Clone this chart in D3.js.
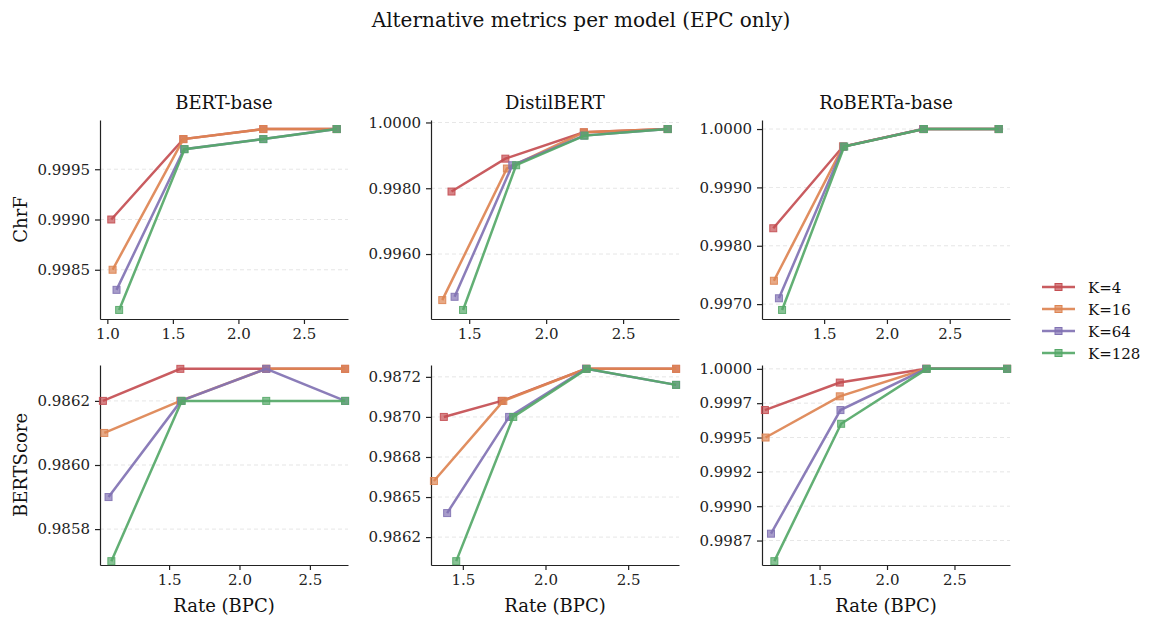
<!DOCTYPE html>
<html>
<head>
<meta charset="utf-8">
<script src="https://cdn.jsdelivr.net/npm/d3@7"></script>
<style>
  body { margin: 0; background: #fff; }
  svg { font-family: "DejaVu Serif", serif; }
</style>
</head>
<body>
<svg id="chart"></svg>
<script>
const models = ["BERT-base", "DistilBERT", "RoBERTa-base"];
const metrics = ["ChrF", "BERTScore"];
const kLabels = ["K=4", "K=16", "K=64", "K=128"];
const colors = ["#c44e52", "#dd8452", "#8172b3", "#55a868"];

// rate (BPC) per K, one row per K
const bertRate = [
  [1.03, 1.58, 2.19, 2.75],
  [1.04, 1.58, 2.19, 2.75],
  [1.07, 1.585, 2.19, 2.75],
  [1.09, 1.59, 2.19, 2.75]
];
const distilRate = [
  [1.385, 1.735, 2.245, 2.79],
  [1.325, 1.745, 2.245, 2.79],
  [1.405, 1.78, 2.245, 2.79],
  [1.46, 1.805, 2.25, 2.79]
];
const robertaRate = [
  [1.095, 1.65, 2.29, 2.89],
  [1.10, 1.65, 2.29, 2.89],
  [1.14, 1.655, 2.29, 2.89],
  [1.165, 1.66, 2.295, 2.89]
];

const bertChrf = [
  [0.9990, 0.9998, 0.9999, 0.9999],
  [0.9985, 0.9998, 0.9999, 0.9999],
  [0.9983, 0.9997, 0.9998, 0.9999],
  [0.9981, 0.9997, 0.9998, 0.9999]
];
const distilChrf = [
  [0.9979, 0.9989, 0.9997, 0.9998],
  [0.9946, 0.9986, 0.9997, 0.9998],
  [0.9947, 0.9987, 0.9996, 0.9998],
  [0.9943, 0.9987, 0.9996, 0.9998]
];
const robertaChrf = [
  [0.9983, 0.9997, 1.0000, 1.0000],
  [0.9974, 0.9997, 1.0000, 1.0000],
  [0.9971, 0.9997, 1.0000, 1.0000],
  [0.9969, 0.9997, 1.0000, 1.0000]
];

const bertScore = [
  [0.9862, 0.9863, 0.9863, 0.9863],
  [0.9861, 0.9862, 0.9863, 0.9863],
  [0.9859, 0.9862, 0.9863, 0.9862],
  [0.9857, 0.9862, 0.9862, 0.9862]
];
const distilScore = [
  [0.98700, 0.98710, 0.98730, 0.98730],
  [0.98660, 0.98710, 0.98730, 0.98730],
  [0.98640, 0.98700, 0.98730, 0.98720],
  [0.98610, 0.98700, 0.98730, 0.98720]
];
const robertaScore = [
  [0.99970, 0.99990, 1.00000, 1.00000],
  [0.99950, 0.99980, 1.00000, 1.00000],
  [0.99880, 0.99970, 1.00000, 1.00000],
  [0.99860, 0.99960, 1.00000, 1.00000]
];

// y tick values and their printed labels per panel (row-major)
const yTicks = [
  [0.9985, 0.9990, 0.9995],
  [0.9960, 0.9980, 1.0000],
  [0.9970, 0.9980, 0.9990, 1.0000],
  [0.9858, 0.9860, 0.9862],
  [0.98625, 0.98650, 0.98675, 0.98700, 0.98725],
  [0.99875, 0.99900, 0.99925, 0.99950, 0.99975, 1.00000]
];
const yTickLabels = [
  ["0.9985", "0.9990", "0.9995"],
  ["0.9960", "0.9980", "1.0000"],
  ["0.9970", "0.9980", "0.9990", "1.0000"],
  ["0.9858", "0.9860", "0.9862"],
  ["0.9862", "0.9865", "0.9868", "0.9870", "0.9872"],
  ["0.9987", "0.9990", "0.9992", "0.9995", "0.9997", "1.0000"]
];
const xTicks = [1.0, 1.5, 2.0, 2.5];

const rates = [bertRate, distilRate, robertaRate];
const values = [[bertChrf, distilChrf, robertaChrf], [bertScore, distilScore, robertaScore]];

const width = 1158, height = 627;
const colLeft = [100, 431, 762], plotW = 248;
const rowTop = [120, 365], plotH = [199, 200];
const pad = [{x: 0.05, y: 0.05}, {x: 0.012, y: 0.02}];
const ink = "#222";

const svg = d3.select("#chart")
  .attr("width", width)
  .attr("height", height)
  .attr("viewBox", [0, 0, width, height]);

svg.append("text")
  .attr("x", width / 2 + 2)
  .attr("y", 27)
  .attr("text-anchor", "middle")
  .style("font-size", "20px")
  .attr("fill", "#111")
  .text("Alternative metrics per model (EPC only)");

function padded(ext, p) {
  const d = (ext[1] - ext[0]) * p;
  return [ext[0] - d, ext[1] + d];
}

metrics.forEach((metric, r) => {
  models.forEach((model, c) => {
    const xs = rates[c], ys = values[r][c];
    const x0 = colLeft[c], y0 = rowTop[r], h = plotH[r];

    const xScale = d3.scaleLinear(padded(d3.extent(xs.flat()), pad[r].x), [x0, x0 + plotW]);
    const yScale = d3.scaleLinear(padded(d3.extent(ys.flat()), pad[r].y), [y0 + h, y0]);

    const g = svg.append("g");
    const yt = yTicks[r * 3 + c], ytl = yTickLabels[r * 3 + c];
    const xt = xTicks.filter(v => v >= xScale.domain()[0] && v <= xScale.domain()[1]);

    // grid
    g.append("g")
      .selectAll("line")
      .data(yt)
      .join("line")
        .attr("x1", x0).attr("x2", x0 + plotW)
        .attr("y1", d => yScale(d)).attr("y2", d => yScale(d))
        .attr("stroke", "#d9d9d9")
        .attr("stroke-width", 0.8)
        .attr("stroke-dasharray", "4,3")
        .attr("opacity", 0.8);

    const yAxis = g.append("g")
      .attr("transform", `translate(${x0},0)`)
      .call(d3.axisLeft(yScale).tickValues(yt).tickFormat((d, i) => ytl[i]).tickSize(5).tickPadding(5).tickSizeOuter(0));
    const xAxis = g.append("g")
      .attr("transform", `translate(0,${y0 + h})`)
      .call(d3.axisBottom(xScale).tickValues(xt).tickFormat(d3.format(".1f")).tickSize(5).tickPadding(4).tickSizeOuter(0));

    [yAxis, xAxis].forEach(a => {
      a.select(".domain").attr("stroke", ink).attr("stroke-width", 1.2);
      a.selectAll(".tick line").attr("stroke", ink).attr("stroke-width", 1.2);
      a.selectAll(".tick text")
        .attr("fill", ink)
        .style("font-size", "15px")
        .style("font-family", "DejaVu Serif");
    });

    // series
    const line = d3.line();
    kLabels.forEach((k, i) => {
      const pts = xs[i].map((v, j) => [xScale(v), yScale(ys[i][j])]);
      const s = g.append("g");
      s.append("path")
        .attr("d", line(pts))
        .attr("fill", "none")
        .attr("stroke", colors[i])
        .attr("stroke-width", 2.5)
        .attr("stroke-opacity", 0.92);
      s.selectAll("rect")
        .data(pts)
        .join("rect")
          .attr("x", d => d[0] - 3.5)
          .attr("y", d => d[1] - 3.5)
          .attr("width", 7).attr("height", 7)
          .attr("fill", colors[i])
          .attr("fill-opacity", 0.7)
          .attr("stroke", colors[i])
          .attr("stroke-opacity", 0.9)
          .attr("stroke-width", 1);
    });

    if (r === 0) {
      g.append("text")
        .attr("x", x0 + plotW / 2)
        .attr("y", y0 - 11)
        .attr("text-anchor", "middle")
        .style("font-size", "18px")
        .attr("fill", "#111")
        .text(model);
    }
    if (r === 1) {
      g.append("text")
        .attr("x", x0 + plotW / 2)
        .attr("y", y0 + h + 47)
        .attr("text-anchor", "middle")
        .style("font-size", "18px")
        .attr("fill", "#111")
        .text("Rate (BPC)");
    }
    if (c === 0) {
      g.append("text")
        .attr("transform", `translate(27,${y0 + h / 2}) rotate(-90)`)
        .attr("text-anchor", "middle")
        .style("font-size", "18px")
        .attr("fill", "#111")
        .text(metric);
    }
  });
});

// legend
const legend = svg.append("g").attr("transform", "translate(1042,287)");
kLabels.forEach((k, i) => {
  const row = legend.append("g").attr("transform", `translate(0,${i * 22})`);
  row.append("line")
    .attr("x1", 0).attr("x2", 33)
    .attr("stroke", colors[i]).attr("stroke-width", 2.5).attr("stroke-opacity", 0.92);
  row.append("rect")
    .attr("x", 13).attr("y", -3.5).attr("width", 7).attr("height", 7)
    .attr("fill", colors[i]).attr("fill-opacity", 0.7)
    .attr("stroke", colors[i]).attr("stroke-width", 1);
  row.append("text")
    .attr("x", 46).attr("y", 5.5)
    .style("font-size", "15px")
    .attr("fill", "#111")
    .text(k);
});
</script>
</body>
</html>
